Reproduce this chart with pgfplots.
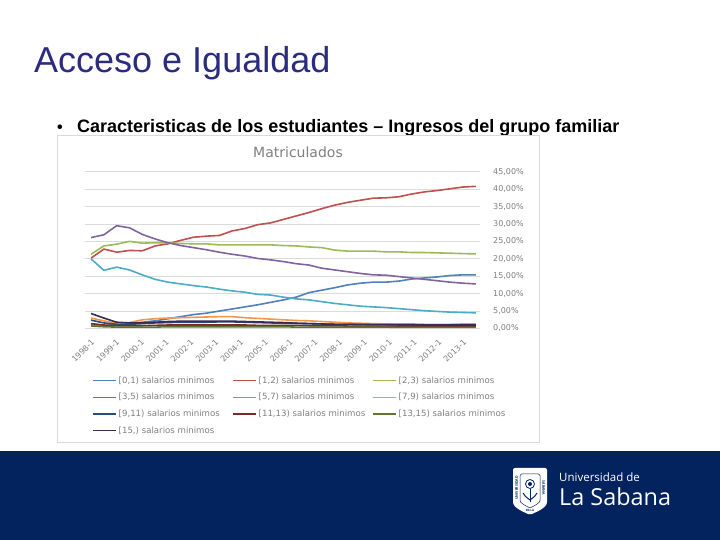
\documentclass[border=0pt]{standalone}
\usepackage{fontspec}
\setmainfont{Liberation Sans}
\newfontfamily\chartfont{DejaVu Sans}
\newfontfamily\logofont{Open Sans}
\usepackage{pgfplots}
\usepackage{pgfplotstable}
\pgfplotsset{compat=1.18}
\definecolor{sA}{HTML}{4F81BD}
\definecolor{sB}{HTML}{C0504D}
\definecolor{sC}{HTML}{9BBB59}
\definecolor{sD}{HTML}{8064A2}
\definecolor{sE}{HTML}{4BACC6}
\definecolor{sF}{HTML}{F79646}
\definecolor{sG}{HTML}{2C4D75}
\definecolor{sH}{HTML}{772C2A}
\definecolor{sI}{HTML}{5F7530}
\definecolor{sJ}{HTML}{3A2A55}
\definecolor{navy}{HTML}{03235F}
\definecolor{titleblue}{HTML}{2B2B7F}
\definecolor{txtgray}{HTML}{808080}
\pgfplotstableread{
i a b c d e f g h j k
0 1.0 20.2 21.3 26.1 20.0 3.0 2.4 1.4 0.7 4.3
1 0.7 22.8 23.7 26.9 16.7 2.2 1.6 1.0 0.5 3.0
2 1.3 21.9 24.2 29.5 17.6 1.5 1.2 0.8 0.4 1.8
3 1.5 22.4 25.0 28.9 16.8 1.7 1.2 0.8 0.4 1.6
4 1.8 22.3 24.5 27.0 15.4 2.5 1.4 0.8 0.4 1.6
5 2.2 23.7 24.6 25.7 14.1 2.8 1.6 0.9 0.4 1.8
6 2.8 24.3 24.6 24.6 13.3 3.0 1.7 1.0 0.5 2.0
7 3.4 25.3 24.4 23.8 12.8 3.1 1.8 1.0 0.5 2.1
8 4.0 26.2 24.3 23.2 12.3 3.2 1.8 1.0 0.5 2.1
9 4.4 26.5 24.3 22.6 11.9 3.3 1.8 1.0 0.5 2.1
10 5.0 26.7 24.0 21.9 11.3 3.4 1.9 1.0 0.5 2.1
11 5.6 28.0 24.0 21.3 10.8 3.4 1.9 1.0 0.5 2.1
12 6.2 28.7 24.0 20.8 10.4 3.1 1.8 1.0 0.5 2.0
13 6.8 29.8 24.0 20.1 9.8 2.9 1.7 0.9 0.5 1.9
14 7.5 30.3 24.0 19.7 9.6 2.7 1.6 0.9 0.5 1.8
15 8.2 31.3 23.8 19.2 9.0 2.5 1.5 0.9 0.5 1.7
16 9.0 32.3 23.7 18.6 8.5 2.3 1.5 0.9 0.4 1.5
17 10.3 33.3 23.4 18.2 8.2 2.2 1.4 0.8 0.4 1.4
18 11.0 34.4 23.2 17.3 7.7 2.0 1.3 0.8 0.4 1.3
19 11.7 35.4 22.5 16.8 7.2 1.8 1.2 0.8 0.4 1.2
20 12.5 36.2 22.2 16.3 6.8 1.6 1.2 0.7 0.4 1.2
21 13.0 36.8 22.2 15.8 6.4 1.5 1.1 0.7 0.4 1.2
22 13.3 37.4 22.2 15.4 6.2 1.4 1.1 0.7 0.4 1.1
23 13.3 37.5 22.0 15.3 6.0 1.3 1.1 0.7 0.4 1.1
24 13.6 37.8 22.0 14.9 5.7 1.3 1.0 0.6 0.3 1.1
25 14.2 38.6 21.8 14.5 5.4 1.3 1.0 0.6 0.3 1.1
26 14.5 39.2 21.8 14.1 5.1 1.2 1.0 0.6 0.3 1.0
27 14.8 39.6 21.7 13.7 4.9 1.2 1.0 0.6 0.3 1.0
28 15.2 40.1 21.6 13.3 4.7 1.2 1.0 0.6 0.3 1.0
29 15.4 40.6 21.5 13.0 4.6 1.3 1.0 0.6 0.3 1.0
30 15.4 40.8 21.4 12.8 4.5 1.3 1.0 0.6 0.3 1.0
}\datatable
\newcommand{\lgd}[1]{\makebox[111.5pt][l]{#1}}
\begin{document}
\begin{tikzpicture}[x=1pt,y=1pt]
\path[use as bounding box] (0,0) rectangle (720,540);
\fill[white] (0,0) rectangle (720,540);
% footer
\fill[navy] (0,0) rectangle (720,89);
% title and bullet
\node[anchor=base west,inner sep=0,text=titleblue,font=\fontsize{36}{38}\selectfont] at (34,467) {Acceso e Igualdad};
\node[anchor=base west,inner sep=0,font=\bfseries\fontsize{16}{18}\selectfont] at (57,407) {•};
\node[anchor=base west,inner sep=0,font=\bfseries\fontsize{18}{20}\selectfont] at (77,407) {Caracteristicas de los estudiantes – Ingresos del grupo familiar};
% chart frame
\draw[black!15,line width=1pt] (57,97) rectangle (539,404);
\node[text=txtgray,font=\chartfont\fontsize{14}{16}\selectfont,inner sep=0] at (298,388) {Matriculados};
\begin{axis}[
  at={(85pt,211.5pt)},anchor=south west,
  scale only axis,width=395pt,height=156.8pt,
  xmin=-0.47,xmax=30.33,ymin=0,ymax=45,
  axis line style={draw=none},
  major tick length=0,
  ytick={0,5,...,45},
  yticklabels={{0,00\%},{5,00\%},{10,00\%},{15,00\%},{20,00\%},{25,00\%},{30,00\%},{35,00\%},{40,00\%},{45,00\%}},
  ymajorgrids,
  grid style={black!14,line width=0.8pt},
  yticklabel pos=right,
  yticklabel style={anchor=west,xshift=13pt,inner sep=0,text=txtgray,font=\chartfont\fontsize{8}{9}\selectfont},
  xtick={0.1,2.033,3.966,5.9,7.833,9.766,11.7,13.633,15.566,17.5,19.433,21.366,23.3,25.233,27.166,29.1},
  xticklabels={1998-1,1999-1,2000-1,2001-1,2002-1,2003-1,2004-1,2005-1,2006-1,2007-1,2008-1,2009-1,2010-1,2011-1,2012-1,2013-1},
  xticklabel style={rotate=45,anchor=north east,inner sep=0,yshift=-6pt,xshift=-8pt,text=txtgray,font=\chartfont\fontsize{8}{9}\selectfont},
  legend columns=3,
  legend cell align=left,
  legend style={at={(7/395,-46/156.8)},anchor=north west,draw=none,fill=none,inner sep=0,
    row sep=4.6pt,
    font=\chartfont\fontsize{8.6}{9}\selectfont,text=txtgray},
  legend image code/.code={\draw[#1,line width=1.5pt] (0pt,0pt) -- (23pt,0pt);},
  every axis plot/.append style={line width=1.6pt,no markers,line join=round},
]
\addplot[sA] table[x=i,y=a]{\datatable};
\addplot[sB] table[x=i,y=b]{\datatable};
\addplot[sC] table[x=i,y=c]{\datatable};
\addplot[sD] table[x=i,y=d]{\datatable};
\addplot[sE] table[x=i,y=e]{\datatable};
\addplot[sF] table[x=i,y=f]{\datatable};
\addplot[sG] table[x=i,y=g]{\datatable};
\addplot[sH] table[x=i,y=h]{\datatable};
\addplot[sI] table[x=i,y=j]{\datatable};
\addplot[sJ] table[x=i,y=k]{\datatable};
\legend{\lgd{[0,1) salarios minimos},\lgd{[1,2) salarios minimos},\lgd{[2,3) salarios minimos},\lgd{[3,5) salarios minimos},\lgd{[5,7) salarios minimos},\lgd{[7,9) salarios minimos},\lgd{[9,11) salarios minimos},\lgd{[11,13) salarios minimos},\lgd{[13,15) salarios minimos},\lgd{[15,) salarios minimos}}
\end{axis}
% logo shield
\fill[white,rounded corners=2pt] (513,72) -- (547,72) -- (547,40) .. controls (547,32) and (536,28) .. (530,25) .. controls (524,28) and (513,32) .. (513,40) -- cycle;
\draw[navy,line width=0.5pt,rounded corners=1.5pt] (520,66) -- (540,66) -- (540,41) .. controls (540,37) and (534,34) .. (530,32) .. controls (526,34) and (520,37) .. (520,41) -- cycle;
\node[navy,rotate=-90,inner sep=0,font=\logofont\bfseries\fontsize{3.5}{4}\selectfont] at (543.5,52) {SABANA};
\node[navy,rotate=90,inner sep=0,font=\logofont\bfseries\fontsize{3.5}{4}\selectfont] at (516.5,52) {UNIVERSIDAD};
\node[navy,rotate=0,inner sep=0,font=\logofont\bfseries\fontsize{3}{4}\selectfont] at (530,29.5) {DE LA};
\draw[navy,line width=0.8pt] (530,56) circle (4.5);
\fill[navy] (530,56) circle (2);
\draw[navy,line width=1pt] (530,51) -- (530,38);
\draw[navy,line width=1pt] (523,47) .. controls (526,42) and (528,42) .. (530,40) .. controls (532,42) and (534,42) .. (537,47);
% logo text
\node[anchor=base west,inner sep=0,text=white,font=\logofont\fontsize{11.5}{13}\selectfont] at (559,58) {Universidad de};
\node[anchor=base west,inner sep=0,text=white,font=\logofont\fontsize{23.4}{26}\selectfont] at (559,34) {La Sabana};
\end{tikzpicture}
\end{document}
